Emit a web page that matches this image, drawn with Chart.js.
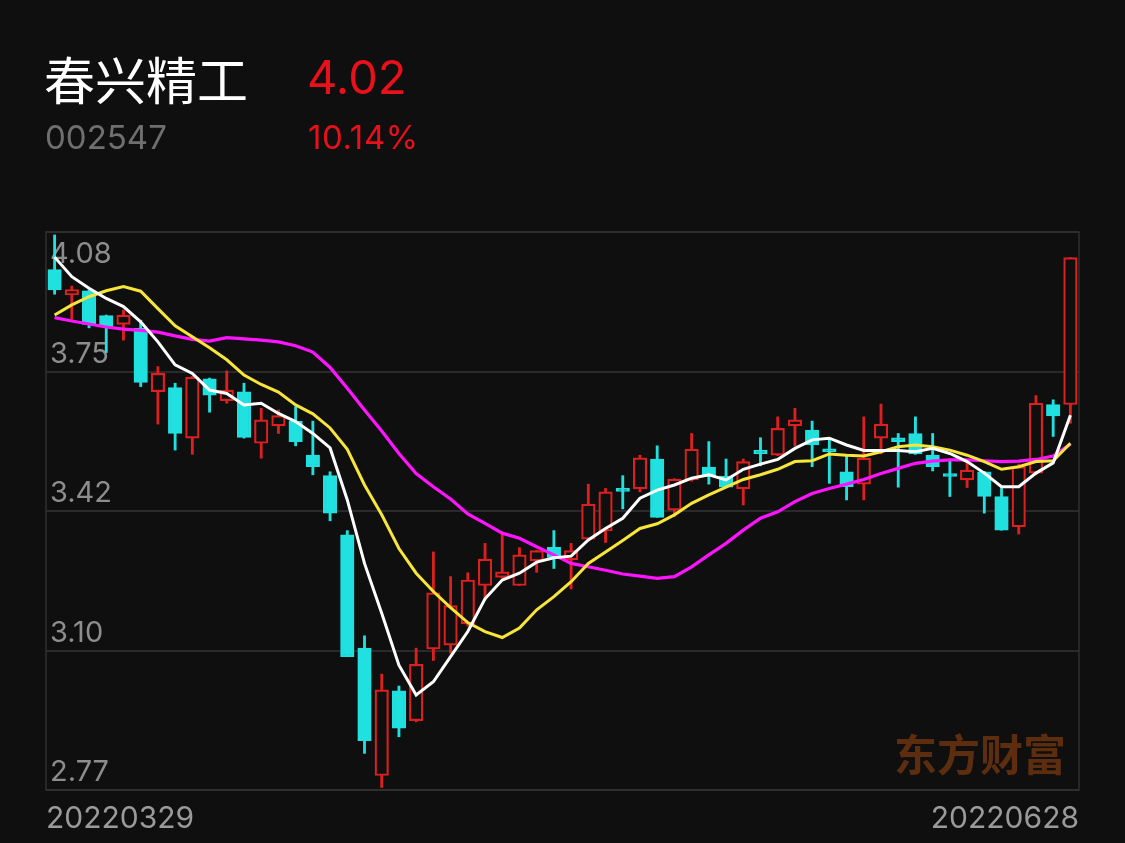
<!DOCTYPE html>
<html>
<head>
<meta charset="utf-8">
<script src="https://cdn.jsdelivr.net/npm/chart.js@4.4.1/dist/chart.umd.min.js"></script>
<style>
  html, body { margin: 0; padding: 0; background: #0f0f0f; overflow: hidden; }
  #wrap { position: relative; width: 1125px; height: 843px; }
  #c { position: absolute; left: 0; top: 0; }
  .t { position: absolute; white-space: nowrap; line-height: 1; }
  #name { left: 44px; top: 41px; font: 400 51px "Noto Sans CJK SC", sans-serif; color: #ffffff; }
  #price { left: 307px; top: 48px; font: 400 47px Inter, sans-serif; color: #e8101a; }
  #code { left: 45px; top: 117px; font: 400 33px Inter, sans-serif; color: #6f6f6f; }
  #pct { left: 308px; top: 117px; font: 400 33px Inter, sans-serif; color: #e8101a; letter-spacing: 0.6px; }
  #wm { left: 894px; top: 721px; font: 700 43px "Noto Sans CJK SC", sans-serif; color: #5c2d0e; }
</style>
</head>
<body>
<div id="wrap">
  <canvas id="c" width="1125" height="843"></canvas>
  <div class="t" id="name">春兴精工</div>
  <div class="t" id="price">4.02</div>
  <div class="t" id="code">002547</div>
  <div class="t" id="pct">10.14%</div>
  <div class="t" id="wm">东方财富</div>
</div>
<script>
// ---- data ----
const dates = [
  '20220329','20220330','20220331','20220401','20220406','20220407','20220408','20220411','20220412','20220413',
  '20220414','20220415','20220418','20220419','20220420','20220421','20220422','20220425','20220426','20220427',
  '20220428','20220429','20220505','20220506','20220509','20220510','20220511','20220512','20220513','20220516',
  '20220517','20220518','20220519','20220520','20220523','20220524','20220525','20220526','20220527','20220530',
  '20220531','20220601','20220602','20220606','20220607','20220608','20220609','20220610','20220613','20220614',
  '20220615','20220616','20220617','20220620','20220621','20220622','20220623','20220624','20220627','20220628'
];
const openP = [
  3.992,3.932,3.942,3.884,3.863,3.854,3.705,3.715,3.596,3.735,
  3.684,3.705,3.584,3.625,3.636,3.556,3.508,3.369,3.103,2.804,
  3.003,2.933,3.101,3.110,3.160,3.250,3.269,3.250,3.308,3.340,
  3.310,3.359,3.378,3.478,3.477,3.547,3.427,3.498,3.528,3.507,
  3.477,3.568,3.556,3.625,3.615,3.571,3.517,3.488,3.596,3.597,
  3.607,3.556,3.511,3.498,3.517,3.459,3.388,3.514,3.675,3.675
];
const highP = [
  4.073,3.953,3.944,3.885,3.897,3.873,3.764,3.725,3.741,3.737,
  3.754,3.725,3.666,3.662,3.670,3.636,3.517,3.379,3.132,3.042,
  3.014,3.103,3.329,3.271,3.280,3.349,3.370,3.339,3.333,3.379,
  3.349,3.488,3.478,3.508,3.556,3.578,3.501,3.607,3.588,3.547,
  3.547,3.597,3.646,3.666,3.636,3.592,3.556,3.646,3.676,3.607,
  3.646,3.607,3.545,3.538,3.518,3.478,3.535,3.696,3.686,4.020
];
const lowP = [
  3.934,3.875,3.855,3.797,3.826,3.717,3.629,3.568,3.558,3.657,
  3.678,3.596,3.549,3.607,3.578,3.510,3.402,3.083,2.856,2.776,
  2.895,2.930,3.074,3.091,3.155,3.216,3.268,3.250,3.281,3.290,
  3.242,3.358,3.351,3.430,3.470,3.410,3.412,3.495,3.488,3.480,
  3.439,3.531,3.555,3.578,3.529,3.490,3.451,3.451,3.559,3.481,
  3.558,3.519,3.459,3.480,3.420,3.380,3.371,3.510,3.600,3.631
];
const closeP = [
  3.944,3.945,3.863,3.857,3.885,3.727,3.748,3.607,3.739,3.697,
  3.709,3.598,3.639,3.649,3.588,3.529,3.420,3.083,2.886,3.005,
  2.915,3.065,3.233,3.203,3.263,3.312,3.282,3.322,3.332,3.316,
  3.332,3.441,3.470,3.471,3.550,3.410,3.500,3.570,3.506,3.481,
  3.541,3.559,3.619,3.639,3.580,3.564,3.482,3.549,3.629,3.588,
  3.559,3.529,3.506,3.521,3.459,3.380,3.529,3.678,3.648,4.020
];
const ma5 = [
  4.021,3.975,3.948,3.924,3.905,3.869,3.822,3.768,3.748,3.709,
  3.701,3.674,3.678,3.654,3.635,3.607,3.573,3.451,3.302,3.185,
  3.063,2.993,3.024,3.083,3.142,3.219,3.263,3.279,3.305,3.315,
  3.319,3.357,3.384,3.408,3.455,3.474,3.486,3.502,3.510,3.498,
  3.523,3.535,3.546,3.572,3.592,3.596,3.580,3.567,3.567,3.567,
  3.564,3.572,3.560,3.541,3.514,3.482,3.482,3.514,3.538,3.650
];
const ma10 = [
  3.885,3.909,3.928,3.942,3.952,3.941,3.900,3.860,3.834,3.808,
  3.780,3.744,3.722,3.704,3.674,3.653,3.620,3.570,3.486,3.416,
  3.337,3.279,3.236,3.198,3.163,3.142,3.128,3.150,3.193,3.224,
  3.259,3.302,3.329,3.356,3.384,3.395,3.416,3.443,3.463,3.481,
  3.499,3.510,3.523,3.541,3.543,3.559,3.556,3.554,3.564,3.576,
  3.580,3.576,3.568,3.556,3.541,3.523,3.529,3.541,3.543,3.584
];
const ma20 = [
  3.879,3.871,3.864,3.857,3.852,3.849,3.845,3.836,3.828,3.824,
  3.832,3.829,3.826,3.822,3.813,3.798,3.762,3.713,3.662,3.613,
  3.560,3.513,3.482,3.453,3.418,3.396,3.373,3.361,3.341,3.322,
  3.302,3.294,3.286,3.277,3.272,3.267,3.271,3.294,3.322,3.349,
  3.380,3.408,3.423,3.447,3.466,3.478,3.488,3.499,3.513,3.525,
  3.537,3.542,3.545,3.545,3.543,3.541,3.542,3.546,3.554,3.582
];
const yTickLabels = ['2.77','3.10','3.42','3.75','4.08'];
const yMin = 2.77, yMax = 4.08;

// ---- styling ----
const UP = '#dc1f1f', DOWN = '#20e0e0', BG = '#0f0f0f';
const candleColor = closeP.map((c, i) => c >= openP[i] ? UP : DOWN);
const bodyFill = closeP.map((c, i) => c >= openP[i] ? BG : DOWN);

const overlay = {
  id: 'overlay',
  beforeDatasetsDraw(chart) {
    const { ctx, chartArea: a, scales: { y } } = chart;
    ctx.save();
    ctx.strokeStyle = '#313131';
    ctx.lineWidth = 1.5;
    ctx.strokeRect(a.left, a.top, a.right - a.left, a.bottom - a.top);
    ctx.font = '400 29px Inter, sans-serif';
    ctx.fillStyle = '#8d8d8d';
    ctx.textAlign = 'left';
    ctx.textBaseline = 'alphabetic';
    const n = yTickLabels.length;
    yTickLabels.forEach((lab, i) => {
      const v = yMin + i * (yMax - yMin) / (n - 1);
      const py = y.getPixelForValue(v);
      const by = (i === n - 1) ? py + 31 : py - 9;
      ctx.fillText(lab, a.left + 4, by);
    });
    ctx.font = '400 30px Inter, sans-serif';
    ctx.fillStyle = '#9a9a9a';
    ctx.fillText(dates[0], a.left, 828);
    ctx.textAlign = 'right';
    ctx.fillText(dates[dates.length - 1], a.right, 828);
    ctx.restore();
  }
};

new Chart(document.getElementById('c'), {
  data: {
    labels: dates,
    datasets: [
      { type: 'line', label: 'MA5', data: ma5, borderColor: '#ffffff', borderWidth: 3, pointRadius: 0, tension: 0, order: 0 },
      { type: 'line', label: 'MA10', data: ma10, borderColor: '#f8e53a', borderWidth: 3, pointRadius: 0, tension: 0, order: 1 },
      { type: 'line', label: 'MA20', data: ma20, borderColor: '#ff14ff', borderWidth: 3.2, pointRadius: 0, tension: 0, order: 1 },
      { type: 'bar', label: 'body', data: dates.map((d, i) => [openP[i], closeP[i]]),
        backgroundColor: bodyFill, borderColor: candleColor, borderWidth: 2.2, borderSkipped: false,
        barThickness: 13.5, minBarLength: 3, grouped: false, order: 2 },
      { type: 'bar', label: 'wick', data: dates.map((d, i) => [lowP[i], highP[i]]),
        backgroundColor: candleColor, borderWidth: 0, barThickness: 2.2, grouped: false, order: 3 }
    ]
  },
  options: {
    responsive: false,
    devicePixelRatio: 1,
    animation: false,
    events: [],
    layout: { padding: { left: 46, right: 46, top: 232, bottom: 53 } },
    plugins: { legend: { display: false }, tooltip: { enabled: false } },
    scales: {
      x: { type: 'category', display: false, offset: true },
      y: {
        min: yMin, max: yMax,
        afterFit(s) { s.width = 0; },
        afterBuildTicks(s) {
          const n = yTickLabels.length;
          s.ticks = yTickLabels.map((_, i) => ({ value: yMin + i * (yMax - yMin) / (n - 1) }));
        },
        ticks: { display: false },
        border: { display: false },
        grid: { color: '#2a2a2a', lineWidth: 2, drawTicks: false }
      }
    }
  },
  plugins: [overlay]
});
</script>
</body>
</html>
